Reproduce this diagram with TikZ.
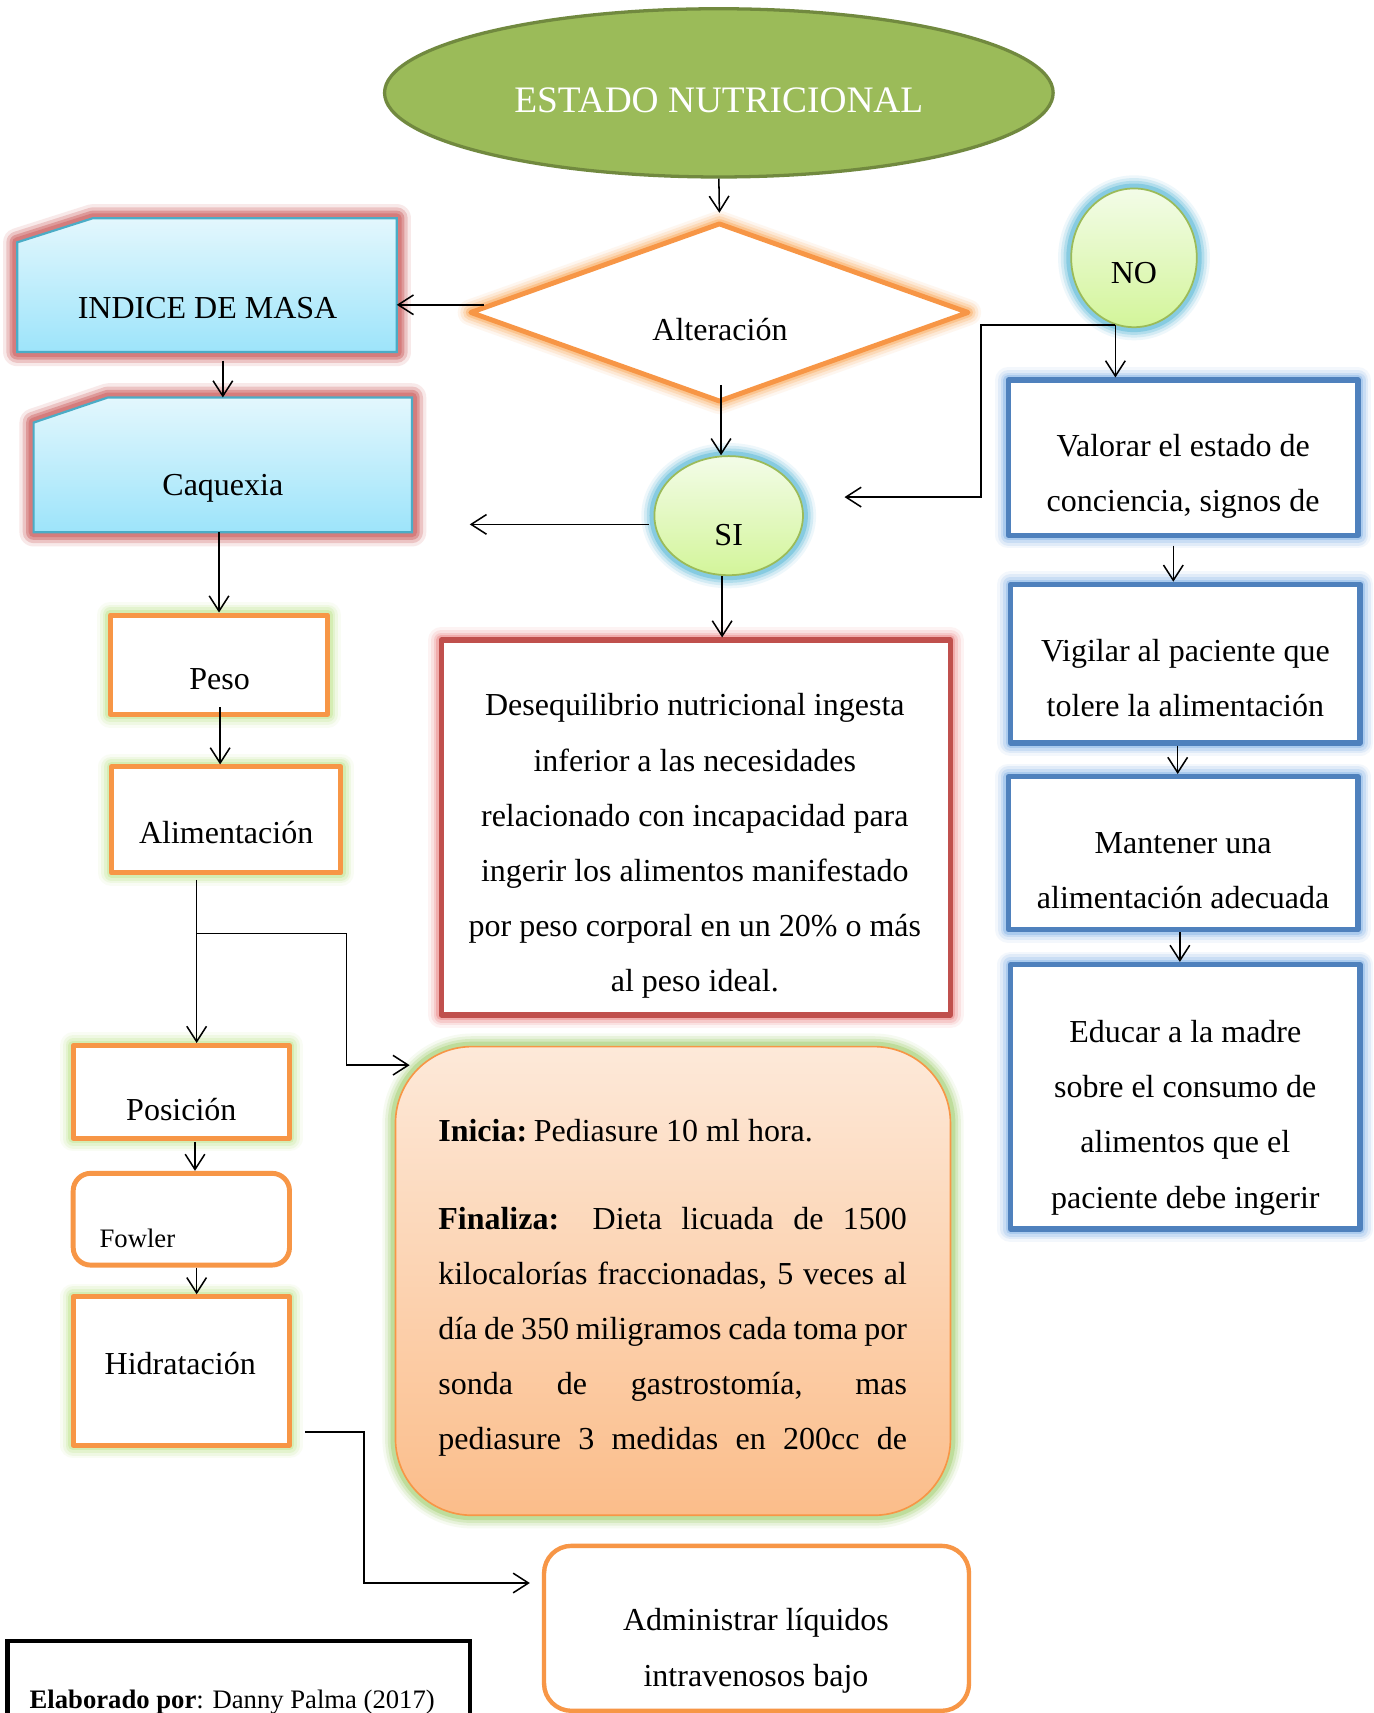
\documentclass[tikz,border=0pt]{standalone}
\usepackage{fontspec}
\setmainfont{Liberation Serif}
\usetikzlibrary{shapes.geometric,arrows.meta,calc}

\definecolor{ogreen}{HTML}{9BBB59}
\definecolor{dgreen}{HTML}{71893F}
\definecolor{orng}{HTML}{F79646}
\definecolor{rred}{HTML}{C0504D}
\definecolor{bblue}{HTML}{4F81BD}
\definecolor{cyanb}{HTML}{4BACC6}
\definecolor{glowred}{HTML}{D27070}
\definecolor{glowgreen}{HTML}{C6E89A}
\definecolor{glowgreenB}{HTML}{A8D278}
\definecolor{gloworange}{HTML}{FBB068}
\definecolor{glowcyan}{HTML}{5CBAD8}
\definecolor{glowblue}{HTML}{8FBAEA}
\definecolor{glowpink}{HTML}{EE9090}
\definecolor{cyantop}{HTML}{E3F7FD}
\definecolor{cyanbot}{HTML}{9DE4FA}
\definecolor{lgtop}{HTML}{F3FCE8}
\definecolor{lgbot}{HTML}{D3F59A}
\definecolor{petop}{HTML}{FDE9D9}
\definecolor{pebot}{HTML}{FBBD8A}

\tikzset{
  glow/.style={
    preaction={draw=#1, line width=24pt, draw opacity=0.10, line join=round},
    preaction={draw=#1, line width=19pt, draw opacity=0.18, line join=round},
    preaction={draw=#1, line width=14pt, draw opacity=0.28, line join=round},
    preaction={draw=#1, line width=9pt, draw opacity=0.5, line join=round}},
  strongglow/.style={
    preaction={draw=#1, line width=26pt, draw opacity=0.15, line join=round},
    preaction={draw=#1, line width=20pt, draw opacity=0.3, line join=round},
    preaction={draw=#1, line width=14pt, draw opacity=0.5, line join=round},
    preaction={draw=#1, line width=9pt, draw opacity=0.7, line join=round}},
  txt/.style={inner sep=0pt, align=center, font=\fontsize{29.3}{50.5}\selectfont},
  smalltxt/.style={inner sep=0pt, align=left, font=\fontsize{24.4}{30}\selectfont},
  shapebox/.style={rectangle, inner sep=0pt},
  orangebox/.style={shapebox, draw=orng, line width=4.6pt, fill=white, line join=round, glow=glowgreen},
  bluebox/.style={shapebox, draw=bblue, line width=5pt, fill=white, line join=round, glow=glowblue},
  snipst/.style={draw=cyanb, line width=2pt, top color=cyantop, bottom color=cyanbot, strongglow=glowred},
  bubble/.style={ellipse, inner sep=0pt, draw=ogreen, line width=1.6pt, top color=lgtop, bottom color=lgbot, glow=glowcyan},
  arr/.style={draw=black, line width=1.4pt, -{Straight Barb[length=14pt,width=18pt]}}
}

\begin{document}
\begin{tikzpicture}[x=1pt,y=-1pt]
\path[use as bounding box, fill=white] (0,0) rectangle (1257,1568);

% ---- title ellipse
\node[ellipse, inner sep=0pt, minimum width=612pt, minimum height=154pt, fill=ogreen, draw=dgreen, line width=3pt] (title) at (658,85) {};
\node[txt, text=white, font=\fontsize{34.2}{40}\selectfont] (titleT) at (658,92) {ESTADO NUTRICIONAL};

% ---- diamond
\node[diamond, inner sep=0pt, minimum width=457pt, minimum height=164pt, draw=orng, line width=4.5pt, fill=white, line join=round, glow=gloworange] (dia) at (658.5,286) {};
\node[txt] (diaT) at (659,302) {Alteración};

% ---- snip boxes
\node[shapebox, minimum width=347pt, minimum height=122pt] (imc) at (189.5,261) {};
\draw[snipst] (imc.south west) -- (imc.south east) -- (imc.north east) -- ($(imc.north west)+(69,0)$) -- ($(imc.north west)+(0,22)$) -- cycle;
\node[txt] (imcT) at (190,282) {INDICE DE MASA};

\node[shapebox, minimum width=346pt, minimum height=123pt] (caq) at (204,425.5) {};
\draw[snipst] (caq.south west) -- (caq.south east) -- (caq.north east) -- ($(caq.north west)+(68,0)$) -- ($(caq.north west)+(0,23)$) -- cycle;
\node[txt] (caqT) at (204,447) {Caquexia};

% ---- left column
\node[orangebox, minimum width=199pt, minimum height=91pt] (peso) at (200.5,608.5) {};
\node[txt] (pesoT) at (201,622) {Peso};
\node[orangebox, minimum width=210pt, minimum height=97pt] (alim) at (207,750.5) {};
\node[txt] (alimT) at (207,762) {Alimentación};
\node[orangebox, minimum width=198pt, minimum height=85pt] (pos) at (166,999.5) {};
\node[txt] (posT) at (166,1016) {Posición};
\node[shapebox, draw=orng, line width=4.5pt, fill=white, rounded corners=16pt, minimum width=198pt, minimum height=84pt] (fow) at (166,1116) {};
\node[smalltxt, anchor=west] (fowT) at (91,1134) {Fowler};
\node[orangebox, minimum width=198pt, minimum height=136pt] (hid) at (166,1255) {};
\node[txt] (hidT) at (165,1248) {Hidratación};

% ---- SI / NO
\node[bubble, minimum width=136pt, minimum height=109pt] (si) at (667,472) {};
\node[txt] (siT) at (667,490) {SI};
\node[bubble, minimum width=115pt, minimum height=127pt] (no) at (1038,236) {};
\node[txt] (noT) at (1038,250) {NO};

% ---- diagnosis box
\node[shapebox, draw=rred, line width=5pt, fill=white, line join=round, glow=glowpink, minimum width=466pt, minimum height=343pt] (des) at (637,757.5) {};
\node[txt] (desT) at (636,774.5) {Desequilibrio nutricional ingesta\\inferior a las necesidades\\relacionado con incapacidad para\\ingerir los alimentos manifestado\\por peso corporal en un 20\% o más\\al peso ideal.};

% ---- Inicia / Finaliza box
\node[shapebox, rounded corners=70pt, draw=orng, line width=1.5pt, top color=petop, bottom color=pebot, glow=glowgreenB, minimum width=508pt, minimum height=429pt] (ini) at (616,1172.5) {};
\node[txt, align=left, anchor=west] (iniT) at (401,1179) {\textbf{Inicia:}\hspace{6pt}Pediasure 10 ml hora.\\[29.5pt]
\makebox[429pt][s]{\textbf{Finaliza:} Dieta licuada de 1500}\\
\makebox[429pt][s]{kilocalorías fraccionadas, 5 veces al}\\
\makebox[429pt][s]{día de 350 miligramos cada toma por}\\
\makebox[429pt][s]{sonda de gastrostomía, mas}\\
\makebox[429pt][s]{pediasure 3 medidas en 200cc de}};

% ---- right column
\node[bluebox, minimum width=320pt, minimum height=142pt] (val) at (1083,419) {};
\node[txt] (valT) at (1083,436) {Valorar el estado de\\conciencia, signos de};
\node[bluebox, minimum width=320pt, minimum height=145pt] (vig) at (1085,607.5) {};
\node[txt] (vigT) at (1085,621) {Vigilar al paciente que\\tolere la alimentación};
\node[bluebox, minimum width=320pt, minimum height=140pt] (man) at (1083,781) {};
\node[txt] (manT) at (1083,797) {Mantener una\\alimentación adecuada};
\node[bluebox, minimum width=320pt, minimum height=242pt] (edu) at (1085,1004) {};
\node[txt] (eduT) at (1085,1023) {Educar a la madre\\sobre el consumo de\\alimentos que el\\paciente debe ingerir};

% ---- bottom boxes
\node[shapebox, draw=orng, line width=4pt, fill=white, rounded corners=25pt, minimum width=389pt, minimum height=151pt] (adm) at (692.5,1490.5) {};
\node[txt] (admT) at (692,1511) {Administrar líquidos\\intravenosos bajo};
\node[shapebox, draw=black, line width=4pt, fill=white, minimum width=423pt, minimum height=100pt] (ela) at (218.5,1552) {};
\node[smalltxt, anchor=west] (elaT) at (27,1558) {\textbf{Elaborado por}: Danny Palma (2017)};

% ---- connectors
\draw[arr] (title.south) -- ($(dia.north)+(0,-7)$);
\coordinate (a2s) at ($(dia.west)+(15,-7)$);
\draw[arr] (a2s) -- (a2s -| imc.east);
\draw[arr] ($(imc.south -| caq.north)+(0,8)$) -- (caq.north);
\draw[arr] (caq.south -| peso.north) -- (peso.north);
\coordinate (a5s) at ($(peso.south)+(1,-9)$);
\draw[arr] (a5s) -- (a5s |- alim.north);
\coordinate (a6s) at ($(alim.south)+(-27,4)$);
\draw[arr] (a6s) -- (a6s |- pos.north);
\coordinate (brA) at ($(alim.south)+(-27,53)$);
\coordinate (iniIn) at (375,975);
\draw[arr] (brA) -- ++(137,0) |- (iniIn);
\coordinate (a8s) at ($(pos.south)+(12.5,1)$);
\draw[arr] (a8s) -- (a8s |- fow.north);
\coordinate (a9s) at ($(fow.south)+(14,0)$);
\draw[arr] (a9s) -- (a9s |- hid.north);
\coordinate (a10s) at ($(hid.east)+(12,56)$);
\coordinate (a10e) at ($(adm.west)+(-11,-41.5)$);
\draw[arr] (a10s) -- ++(54,0) |- (a10e);
\coordinate (a11s) at ($(dia.south)+(1.5,-18)$);
\draw[arr] (a11s) -- (a11s |- si.north);
\coordinate (a12s) at ($(si.south)+(-6,0)$);
\draw[arr] (a12s) -- (a12s |- des.north);
\coordinate (siL) at (430,480);
\draw[arr] ($(si.west)+(-4,8)$) -- (siL);
\coordinate (noB) at ($(no.south)+(-17,-3)$);
\draw[arr] (noB) -- (noB |- val.north);
\coordinate (noL) at (773,455);
\draw[arr] (noB) -- ++(-123,0) |- (noL);
\coordinate (a16s) at ($(val.south)+(-9,7)$);
\draw[arr] (a16s) -- (a16s |- vig.north);
\coordinate (a17s) at ($(vig.south)+(-7,0)$);
\draw[arr] (a17s) -- (a17s |- man.north);
\coordinate (a18s) at ($(man.south)+(-3,0)$);
\draw[arr] (a18s) -- (a18s |- edu.north);
\end{tikzpicture}
\end{document}
